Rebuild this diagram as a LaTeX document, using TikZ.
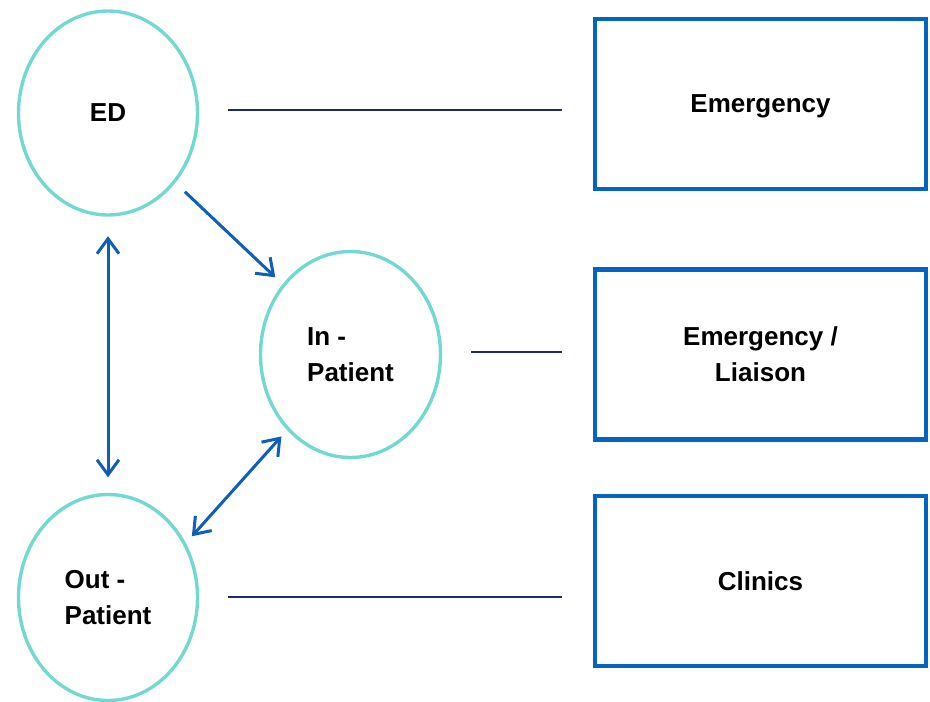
\documentclass[tikz,border=0pt]{standalone}
\usepackage{fontspec}
\setmainfont{Liberation Sans}
\usetikzlibrary{arrows.meta,shapes.geometric}
\definecolor{ringcol}{HTML}{72D9D2}
\definecolor{boxcol}{HTML}{0563C1}
\definecolor{arrcol}{HTML}{0F5EB8}
\definecolor{linkcol}{HTML}{1E2A6E}
\begin{document}
\begin{tikzpicture}[x=1pt,y=-1pt,
  every node/.style={font=\bfseries\fontsize{26}{36}\selectfont, text=black},
  area/.style={ellipse, draw=ringcol, line width=3.4pt, inner sep=0pt,
    minimum width=179pt, minimum height=204pt, align=left},
  unit/.style={rectangle, draw=boxcol, line width=4.4pt, inner sep=0pt,
    minimum width=331pt, minimum height=170pt, align=center},
  tip/.style={Straight Barb[length=15pt,width=22pt,line width=3pt]},
  flow/.style={draw=arrcol, line width=3pt, -{Straight Barb[length=15pt,width=22pt,line width=3pt]}},
  twoway/.style={draw=arrcol, line width=3pt,
    {Straight Barb[length=15pt,width=22pt,line width=3pt]}-{Straight Barb[length=15pt,width=22pt,line width=3pt]}},
  link/.style={draw=linkcol, line width=2.4pt}]
\useasboundingbox (0,0) rectangle (930,702);

% settings (ellipses)
\node[area, text depth=0pt] (ED) at (108,113) {ED};
\node[area, minimum width=180pt, minimum height=206pt] (IP) at (350.5,354.5) {In -\\Patient};
\node[area, minimum width=179pt, minimum height=206pt] (OP) at (108,597.5) {Out -\\Patient};

% services (boxes)
\node[unit, text depth=0pt] (EM) at (760.5,104) {Emergency};
\node[unit] (EL) at (760.5,354.5) {Emergency /\\Liaison};
\node[unit] (CL) at (760.5,581) {Clinics};

% patient pathways
\draw[flow, shorten <=13pt, shorten >=10pt] (ED.-46) -- (IP.134);
\draw[twoway, shorten <=19.5pt, shorten >=15.5pt] (ED.south) -- (OP.north);
\draw[twoway, shorten <=8.5pt, shorten >=9pt] (IP.230) -- (OP.35);

% setting to service links
\draw[link] ([xshift=28.5pt,yshift=3pt]ED.east) -- ([xshift=-31pt,yshift=-6pt]EM.west);
\draw[link] ([xshift=29pt,yshift=2.5pt]IP.east) -- ([xshift=-31pt,yshift=2.5pt]EL.west);
\draw[link] ([xshift=29pt,yshift=0.5pt]OP.east) -- ([xshift=-31pt,yshift=-16pt]CL.west);
\end{tikzpicture}
\end{document}
